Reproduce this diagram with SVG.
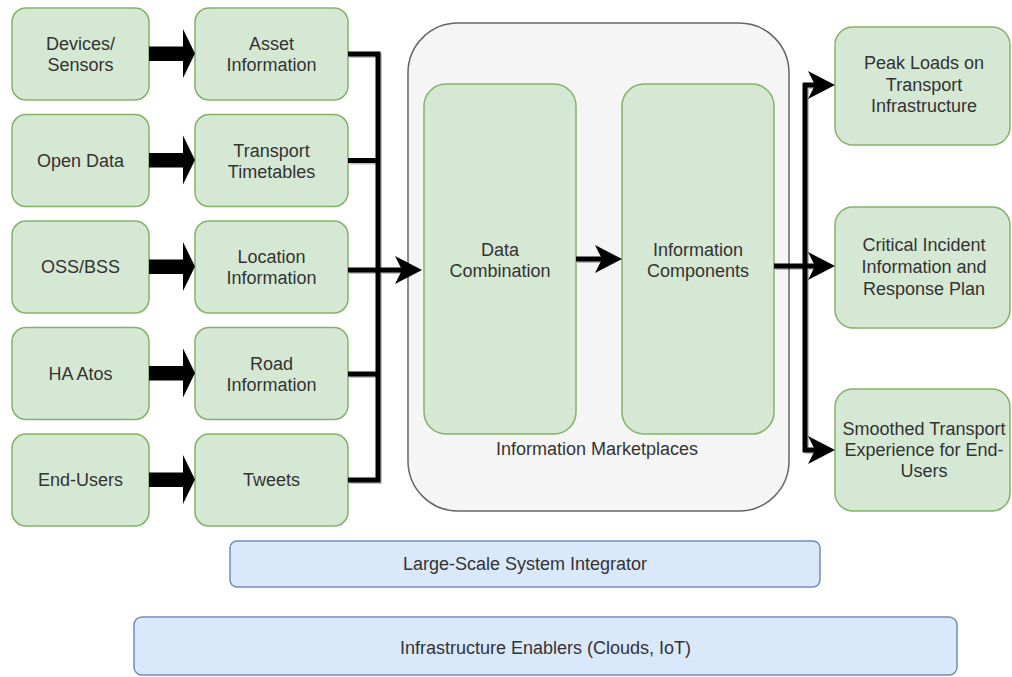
<svg xmlns="http://www.w3.org/2000/svg" xmlns:xlink="http://www.w3.org/1999/xlink" width="1012" height="677" viewBox="0 0 1012 677">
  <style>
    .green { fill: #d5e8d4; stroke: #82b366; stroke-width: 1.5; }
    .blue { fill: #dae8fc; stroke: #6c8ebf; stroke-width: 1.5; }
    .group { fill: #f5f5f5; stroke: #666666; stroke-width: 1.5; }
    .lbl { font-family: "Liberation Sans", Arial, sans-serif; font-size: 18px; fill: #333333; text-anchor: middle; }
    .wire { fill: none; stroke: #000000; stroke-width: 5; }
    .wire-shadow { fill: none; stroke: #000000; stroke-opacity: 0.25; stroke-width: 5; }
  </style>
  <defs>
    <marker id="arrow" viewBox="0 0 28 28" markerWidth="28" markerHeight="28" refX="12" refY="14" orient="auto" markerUnits="userSpaceOnUse">
      <path d="M0,0 L27,14 L0,28 L7,14 Z" fill="#000000"/>
    </marker>
    <!-- wide block arrow, origin at the tail centre -->
    <path id="block-arrow" d="M0,-7.5 H34 V-25 L46,-0.5 L34,24 V7 H0 Z" fill="#000000"/>
  </defs>

  <!-- background -->
  <rect x="0" y="0" width="1012" height="677" fill="#ffffff"/>

  <!-- container -->
  <g id="information-marketplaces">
    <rect class="group" x="408" y="23" width="381" height="488" rx="50" ry="50"/>
    <text class="lbl" x="597" y="455">Information Marketplaces</text>
  </g>

  <!-- sources -->
  <g id="devices-sensors">
    <rect class="green" x="12" y="8" width="137" height="92" rx="14"/>
    <text class="lbl" x="80.5" y="50">Devices/</text>
    <text class="lbl" x="80.5" y="71">Sensors</text>
  </g>
  <g id="open-data">
    <rect class="green" x="12" y="114.5" width="137" height="92" rx="14"/>
    <text class="lbl" x="80.5" y="167">Open Data</text>
  </g>
  <g id="oss-bss">
    <rect class="green" x="12" y="221" width="137" height="92" rx="14"/>
    <text class="lbl" x="80.5" y="273">OSS/BSS</text>
  </g>
  <g id="ha-atos">
    <rect class="green" x="12" y="327.5" width="137" height="92" rx="14"/>
    <text class="lbl" x="80.5" y="380">HA Atos</text>
  </g>
  <g id="end-users">
    <rect class="green" x="12" y="434" width="137" height="92" rx="14"/>
    <text class="lbl" x="80.5" y="486">End-Users</text>
  </g>

  <!-- information types -->
  <g id="asset-information">
    <rect class="green" x="195" y="8" width="153" height="92" rx="14"/>
    <text class="lbl" x="271.5" y="50">Asset</text>
    <text class="lbl" x="271.5" y="71">Information</text>
  </g>
  <g id="transport-timetables">
    <rect class="green" x="195" y="114.5" width="153" height="92" rx="14"/>
    <text class="lbl" x="271.5" y="156.5">Transport</text>
    <text class="lbl" x="271.5" y="177.5">Timetables</text>
  </g>
  <g id="location-information">
    <rect class="green" x="195" y="221" width="153" height="92" rx="14"/>
    <text class="lbl" x="271.5" y="263">Location</text>
    <text class="lbl" x="271.5" y="284">Information</text>
  </g>
  <g id="road-information">
    <rect class="green" x="195" y="327.5" width="153" height="92" rx="14"/>
    <text class="lbl" x="271.5" y="369.5">Road</text>
    <text class="lbl" x="271.5" y="390.5">Information</text>
  </g>
  <g id="tweets">
    <rect class="green" x="195" y="434" width="153" height="92" rx="14"/>
    <text class="lbl" x="271.5" y="486">Tweets</text>
  </g>

  <!-- processing -->
  <g id="data-combination">
    <rect class="green" x="424" y="84" width="152" height="350" rx="22"/>
    <text class="lbl" x="500" y="255.5">Data</text>
    <text class="lbl" x="500" y="276.5">Combination</text>
  </g>
  <g id="information-components">
    <rect class="green" x="622" y="84" width="152" height="350" rx="22"/>
    <text class="lbl" x="698" y="255.5">Information</text>
    <text class="lbl" x="698" y="276.5">Components</text>
  </g>

  <!-- outcomes -->
  <g id="peak-loads">
    <rect class="green" x="835" y="27" width="175" height="118" rx="18"/>
    <text class="lbl" x="924" y="69">Peak Loads on</text>
    <text class="lbl" x="924" y="91">Transport</text>
    <text class="lbl" x="924" y="112">Infrastructure</text>
  </g>
  <g id="critical-incident">
    <rect class="green" x="835" y="207" width="175" height="121" rx="18"/>
    <text class="lbl" x="924" y="251">Critical Incident</text>
    <text class="lbl" x="924" y="273">Information and</text>
    <text class="lbl" x="924" y="295">Response Plan</text>
  </g>
  <g id="smoothed-transport">
    <rect class="green" x="835" y="389" width="175" height="122" rx="18"/>
    <text class="lbl" x="924" y="435">Smoothed Transport</text>
    <text class="lbl" x="924" y="456">Experience for End-</text>
    <text class="lbl" x="924" y="477">Users</text>
  </g>

  <!-- platform layers -->
  <g id="system-integrator">
    <rect class="blue" x="230" y="541" width="590" height="46" rx="7"/>
    <text class="lbl" x="525" y="570">Large-Scale System Integrator</text>
  </g>
  <g id="infrastructure-enablers">
    <rect class="blue" x="134" y="617" width="823" height="58" rx="8"/>
    <text class="lbl" x="545.5" y="654">Infrastructure Enablers (Clouds, IoT)</text>
  </g>

  <!-- connectors -->
  <g id="connectors">
    <!-- source to information type -->
    <use xlink:href="#block-arrow" href="#block-arrow" transform="translate(149,54)"/>
    <use xlink:href="#block-arrow" href="#block-arrow" transform="translate(149,160.5)"/>
    <use xlink:href="#block-arrow" href="#block-arrow" transform="translate(149,267)"/>
    <use xlink:href="#block-arrow" href="#block-arrow" transform="translate(149,373.5)"/>
    <use xlink:href="#block-arrow" href="#block-arrow" transform="translate(149,480)"/>

    <!-- soft shadow under the bus lines -->
    <g transform="translate(1.5,1.5)">
      <path class="wire-shadow" d="M348,54 H378 V480 H348 M348,160.5 H378 M348,374 H378 M348,270 H400"/>
      <path class="wire-shadow" d="M774,266 H805 M805,84 V452 M805,85 H820 M805,266 H820 M805,450 H820 M576,259 H607"/>
    </g>

    <!-- collector bus into data combination -->
    <path class="wire" d="M348,54 H378 V480 H348"/>
    <path class="wire" d="M348,160.5 H378"/>
    <path class="wire" d="M348,374 H378"/>
    <path class="wire" d="M348,270 H407" marker-end="url(#arrow)"/>

    <!-- data combination to information components -->
    <path class="wire" d="M576,259 H607" marker-end="url(#arrow)"/>

    <!-- distribution bus to outcomes -->
    <path class="wire" d="M774,266 H805"/>
    <path class="wire" d="M805,83 V452"/>
    <path class="wire" d="M803,85 H820" marker-end="url(#arrow)"/>
    <path class="wire" d="M803,266 H820" marker-end="url(#arrow)"/>
    <path class="wire" d="M803,450 H820" marker-end="url(#arrow)"/>
  </g>
</svg>
